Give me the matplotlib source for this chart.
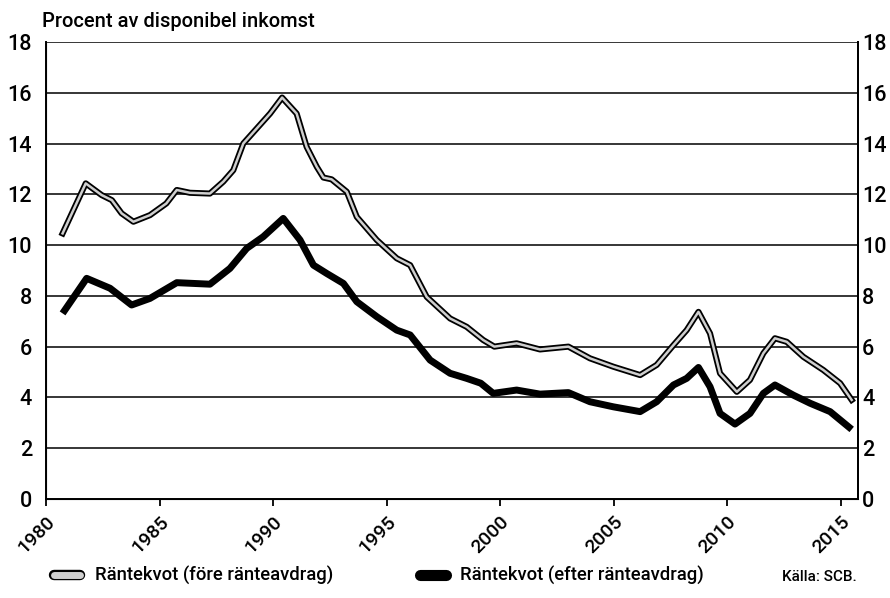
import matplotlib.pyplot as plt
import matplotlib.patheffects as pe
import matplotlib.transforms as mtransforms
from matplotlib.lines import Line2D

plt.rcParams['font.family'] = ['Roboto', 'DejaVu Sans']
plt.rcParams['font.weight'] = 'medium'

# Räntekvot före ränteavdrag (procent av disponibel inkomst)
years_fore = [1980.73, 1981.75, 1982.45, 1982.9, 1983.33, 1983.85, 1984.58, 1985.3,
              1985.76, 1986.34, 1987.22, 1987.81, 1988.25, 1988.69, 1989.35, 1989.87,
              1990.4, 1991.04, 1991.48, 1991.93, 1992.22, 1992.58, 1993.25, 1993.69,
              1994.57, 1995.45, 1996.04, 1996.77, 1997.8, 1998.53, 1999.26, 1999.75,
              2000.73, 2001.76, 2003.01, 2003.96, 2004.99, 2006.17, 2006.9, 2007.64,
              2008.22, 2008.74, 2009.25, 2009.69, 2010.43, 2011.01, 2011.6, 2012.11,
              2012.63, 2013.36, 2014.24, 2014.98, 2015.49]
fore = [10.46, 12.43, 11.97, 11.77, 11.25, 10.92, 11.18, 11.64,
        12.17, 12.06, 12.03, 12.5, 12.95, 14.0, 14.66, 15.18,
        15.81, 15.18, 13.87, 13.08, 12.66, 12.59, 12.1, 11.11,
        10.2, 9.48, 9.21, 7.96, 7.11, 6.78, 6.26, 6.0,
        6.13, 5.89, 6.0, 5.54, 5.21, 4.88, 5.28, 6.06,
        6.65, 7.37, 6.52, 4.95, 4.22, 4.69, 5.74, 6.33,
        6.19, 5.6, 5.08, 4.56, 3.9]

# Räntekvot efter ränteavdrag
years_efter = [1980.73, 1981.79, 1982.82, 1983.77, 1984.58, 1985.76, 1987.22, 1988.1,
               1988.84, 1989.57, 1990.45, 1991.19, 1991.78, 1992.37, 1993.1, 1993.69,
               1994.57, 1995.45, 1996.04, 1996.92, 1997.8, 1998.53, 1999.15, 1999.7,
               2000.73, 2001.76, 2003.01, 2003.96, 2004.99, 2006.17, 2006.9, 2007.64,
               2008.22, 2008.74, 2009.25, 2009.69, 2010.35, 2011.01, 2011.6, 2012.11,
               2012.92, 2013.66, 2014.54, 2015.49]
efter = [7.31, 8.69, 8.3, 7.64, 7.9, 8.52, 8.46, 9.08,
         9.87, 10.33, 11.05, 10.2, 9.21, 8.88, 8.49, 7.77,
         7.18, 6.65, 6.46, 5.47, 4.95, 4.75, 4.56, 4.16,
         4.29, 4.13, 4.19, 3.83, 3.63, 3.44, 3.83, 4.49,
         4.75, 5.18, 4.42, 3.37, 2.95, 3.37, 4.16, 4.49,
         4.09, 3.77, 3.44, 2.74]

xticks = [1980, 1985, 1990, 1995, 2000, 2005, 2010, 2015]
yticks = [0, 2, 4, 6, 8, 10, 12, 14, 16, 18]

fig = plt.figure(figsize=(8.9, 5.98), dpi=100)
ax = fig.add_axes([0.0517, 0.1656, 0.9124, 0.7642])

for y in yticks[1:]:
    ax.axhline(y, color='black', lw=1.1, zorder=1)

grey_fx = [pe.Stroke(linewidth=4.4, foreground='black'), pe.Normal()]
ax.plot(years_fore, fore, color='#cfcfcf', lw=1.8, zorder=3,
        solid_joinstyle='round', path_effects=grey_fx)
ax.plot(years_efter, efter, color='black', lw=5, zorder=3,
        solid_joinstyle='round', solid_capstyle='butt')

ax.set_xlim(1980, 2015.77)
ax.set_ylim(0, 18)
ax.set_yticks(yticks)
ax.set_xticks(xticks)
ax.set_xticklabels([str(x) for x in xticks], rotation=45, ha='right',
                   rotation_mode='anchor', fontsize=14)
offset = mtransforms.ScaledTranslation(10 / 100, 0, fig.dpi_scale_trans)
for lbl in ax.get_xticklabels():
    lbl.set_transform(lbl.get_transform() + offset)
ax.tick_params(axis='x', length=5, width=1.3, pad=5)
ax.tick_params(axis='y', length=0, labelsize=15.5, pad=10)
ax.spines['top'].set_visible(False)
for s in ['left', 'right', 'bottom']:
    ax.spines[s].set_linewidth(1.4)

ax2 = ax.twinx()
ax2.set_ylim(0, 18)
ax2.set_yticks(yticks)
ax2.tick_params(axis='y', length=0, labelsize=15.5, pad=3)
ax2.spines['top'].set_visible(False)
ax2.spines['right'].set_linewidth(1.4)

fig.text(0.047, 0.955, 'Procent av disponibel inkomst', fontsize=14.5,
         ha='left', va='baseline')

h1 = Line2D([], [], color='#cfcfcf', lw=5, solid_capstyle='round',
            path_effects=[pe.Stroke(linewidth=7.5, foreground='black'), pe.Normal()])
h2 = Line2D([], [], color='black', lw=8, solid_capstyle='round')
fig.legend([h1, h2], ['Räntekvot (före ränteavdrag)', 'Räntekvot (efter ränteavdrag)'],
           loc='center left', bbox_to_anchor=(0.042, 0.037), ncol=2, frameon=False,
           fontsize=13.3, handlelength=1.4, columnspacing=4.7, handletextpad=0.8)
fig.text(0.963, 0.035, 'Källa: SCB.', fontsize=11, ha='right', va='center')

fig.savefig('out.png', dpi=100)
